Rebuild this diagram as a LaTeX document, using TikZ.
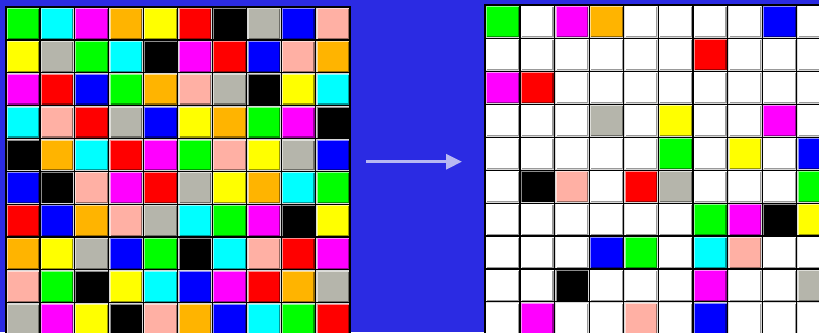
\documentclass[tikz,border=0pt]{standalone}
\usetikzlibrary{arrows.meta}
\definecolor{bgblue}{HTML}{2B2BE3}
\definecolor{arrowc}{HTML}{B8B8F2}
\definecolor{qG}{HTML}{00FF00}
\definecolor{qC}{HTML}{00FFFF}
\definecolor{qM}{HTML}{FF00FF}
\definecolor{qO}{HTML}{FFB400}
\definecolor{qY}{HTML}{FFFF00}
\definecolor{qR}{HTML}{FF0000}
\definecolor{qK}{HTML}{000000}
\definecolor{qS}{HTML}{B5B5AB}
\definecolor{qB}{HTML}{0000FF}
\definecolor{qP}{HTML}{FFB0A4}
\definecolor{qW}{HTML}{FFFFFF}
\definecolor{bevlight}{HTML}{D8D8D8}
\newcommand\gcell[5]{% left x, top y, width, height, colour
  \fill[bevlight] ({#1},{#2}) rectangle ({#1+#3},{#2+#4});
  \fill[#5!45!white] ({#1+1},{#2+1}) rectangle ({#1+#3-1},{#2+#4-1});
  \fill[#5!60!black] ({#1+2},{#2+2}) rectangle ({#1+#3-1},{#2+#4-1});
  \fill[#5] ({#1+2},{#2+2}) rectangle ({#1+#3-2.2},{#2+#4-2.2});
}
\tikzset{
  gridline/.style={black, line width=1.1pt},
  gridborder/.style={black, line width=2pt},
  flowarrow/.style={arrowc, line width=3pt, -{Triangle[length=16pt,width=15pt]}},
}
\begin{document}
\begin{tikzpicture}[x=1pt,y=-1pt]
\fill[bgblue] (0,0) rectangle (819,332);
\useasboundingbox (0,0) rectangle (819,332);
\clip (0,0) rectangle (819,332);
% left grid
\def\lx{5.5}\def\ly{7.16}\def\lw{34.46}\def\lh{32.84}
\foreach \row [count=\r from 0] in {
 {qG,qC,qM,qO,qY,qR,qK,qS,qB,qP},
 {qY,qS,qG,qC,qK,qM,qR,qB,qP,qO},
 {qM,qR,qB,qG,qO,qP,qS,qK,qY,qC},
 {qC,qP,qR,qS,qB,qY,qO,qG,qM,qK},
 {qK,qO,qC,qR,qM,qG,qP,qY,qS,qB},
 {qB,qK,qP,qM,qR,qS,qY,qO,qC,qG},
 {qR,qB,qO,qP,qS,qC,qG,qM,qK,qY},
 {qO,qY,qS,qB,qG,qK,qC,qP,qR,qM},
 {qP,qG,qK,qY,qC,qB,qM,qR,qO,qS},
 {qS,qM,qY,qK,qP,qO,qB,qC,qG,qR}}{
  \foreach \col [count=\c from 0] in \row {
    \gcell{\lx+\c*\lw}{\ly+\r*\lh}{\lw}{\lh}{\col}
  }
}
\foreach \i in {1,...,9}{
  \draw[gridline] ({\lx+\i*\lw},\ly) -- ({\lx+\i*\lw},{\ly+10*\lh});
  \draw[gridline] (\lx,{\ly+\i*\lh}) -- ({\lx+10*\lw},{\ly+\i*\lh});
}
\draw[gridborder] (\lx,\ly) rectangle ({\lx+10*\lw},{\ly+10*\lh});
% right grid
\def\rx{485.4}\def\ry{5.3}\def\rw{34.6}\def\rh{32.96}
\foreach \row [count=\r from 0] in {
 {qG,qW,qM,qO,qW,qW,qW,qW,qB,qW},
 {qW,qW,qW,qW,qW,qW,qR,qW,qW,qW},
 {qM,qR,qW,qW,qW,qW,qW,qW,qW,qW},
 {qW,qW,qW,qS,qW,qY,qW,qW,qM,qW},
 {qW,qW,qW,qW,qW,qG,qW,qY,qW,qB},
 {qW,qK,qP,qW,qR,qS,qW,qW,qW,qG},
 {qW,qW,qW,qW,qW,qW,qG,qM,qK,qY},
 {qW,qW,qW,qB,qG,qW,qC,qP,qW,qW},
 {qW,qW,qK,qW,qW,qW,qM,qW,qW,qS},
 {qW,qM,qW,qW,qP,qW,qB,qW,qW,qW}}{
  \foreach \col [count=\c from 0] in \row {
    \gcell{\rx+\c*\rw}{\ry+\r*\rh}{\rw}{\rh}{\col}
  }
}
\foreach \i in {1,...,9}{
  \draw[gridline] ({\rx+\i*\rw},\ry) -- ({\rx+\i*\rw},{\ry+10*\rh});
  \draw[gridline] (\rx,{\ry+\i*\rh}) -- ({\rx+10*\rw},{\ry+\i*\rh});
}
\draw[gridborder] (\rx,\ry) rectangle ({\rx+10*\rw},{\ry+10*\rh});
% arrow
\coordinate (arrowstart) at (366,161.7);
\coordinate (arrowend) at (462,161.7);
\draw[flowarrow] (arrowstart) -- (arrowend);
\end{tikzpicture}
\end{document}
